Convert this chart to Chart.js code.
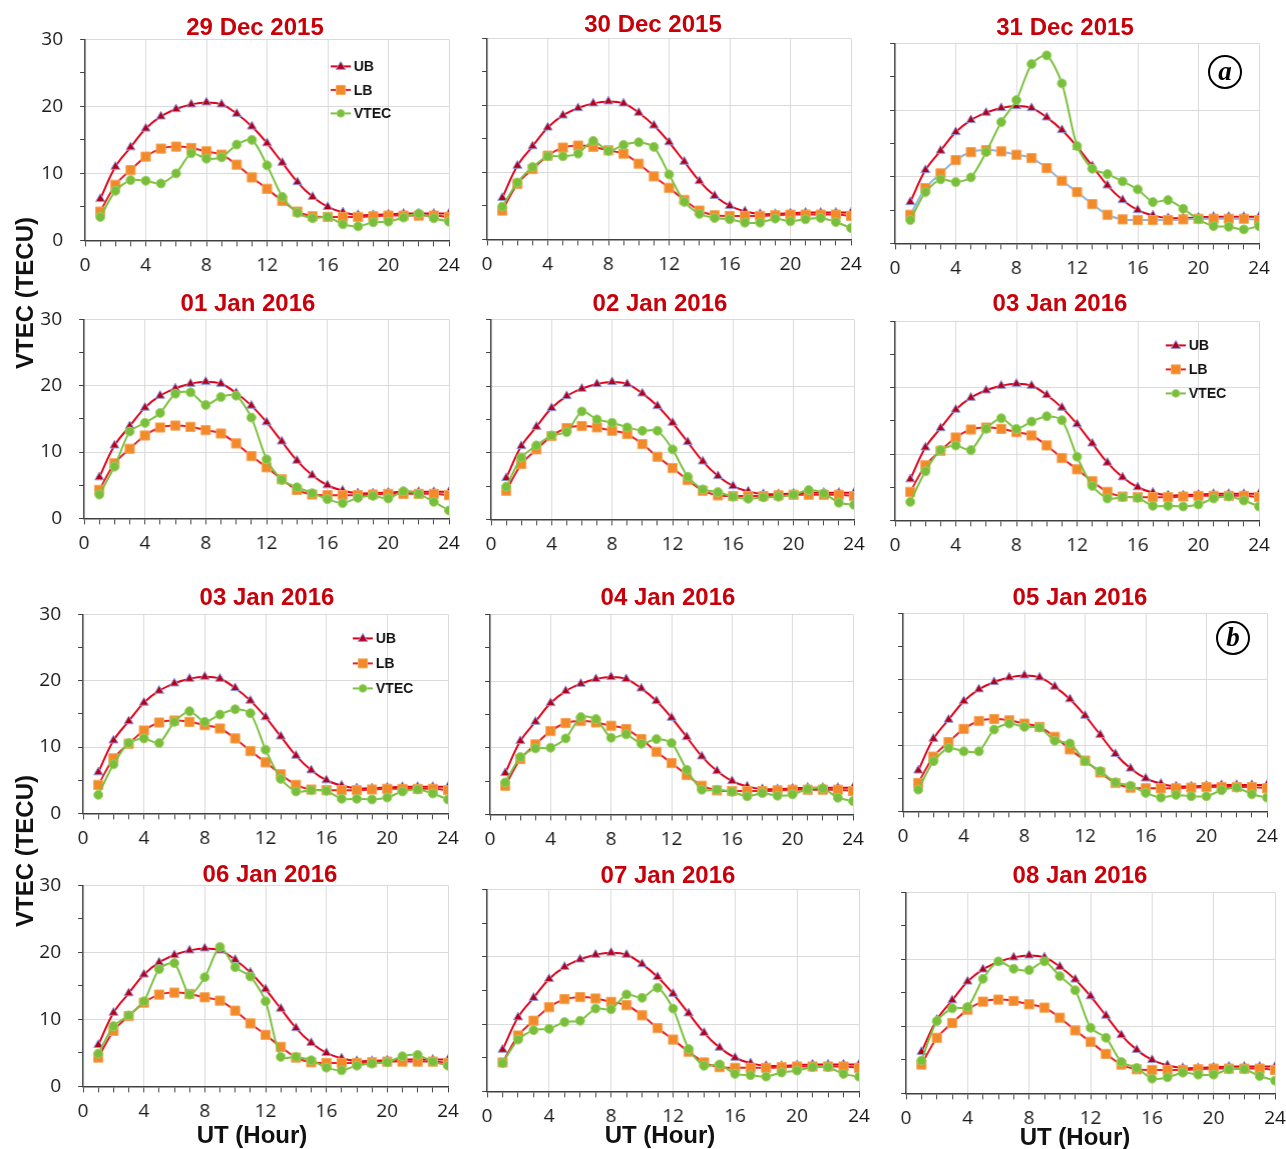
<!DOCTYPE html>
<html><head><meta charset="utf-8">
<script src="https://cdn.jsdelivr.net/npm/chart.js@4.4.1/dist/chart.umd.min.js"></script>
<style>
body{margin:0;background:#fff;width:1286px;height:1149px;position:relative;overflow:hidden;font-family:"Liberation Sans",Arial,sans-serif}
canvas{position:absolute}
.title{position:absolute;color:#c8000a;font-weight:bold;font-size:24px;white-space:nowrap;transform:translate(-50%,-50%)}
.ytitle{position:absolute;font-weight:bold;font-size:24px;white-space:nowrap;color:#111;transform:translate(-50%,-50%) rotate(-90deg)}
.xtitle{position:absolute;font-weight:bold;font-size:24px;white-space:nowrap;color:#111;transform:translate(-50%,-50%)}
.tag{position:absolute;width:30px;height:30px;border:2px solid #000;border-radius:50%;font-family:"Liberation Serif","DejaVu Serif",serif;font-style:italic;font-weight:bold;font-size:27px;text-align:center;line-height:28px;transform:translate(-50%,-50%);background:#fff}
</style>
</head><body>
<script>
// ---------------- data ----------------
const hours = [1,2,3,4,5,6,7,8,9,10,11,12,13,14,15,16,17,18,19,20,21,22,23,24];
const xTicks = [0,4,8,12,16,20,24];
const yTicks = [0,10,20,30];
const ub = [6.2,11.0,13.9,16.7,18.5,19.6,20.3,20.6,20.3,18.9,17.0,14.5,11.6,8.7,6.5,5.0,4.2,3.8,3.8,3.9,4.0,4.0,4.0,4.0];
const lb = [4.3,8.3,10.5,12.5,13.7,14.0,13.8,13.3,12.8,11.3,9.4,7.7,5.9,4.3,3.6,3.5,3.5,3.5,3.6,3.7,3.7,3.7,3.7,3.5];
const dec29 = [3.5,7.4,9.0,8.9,8.5,10.0,13.0,12.2,12.4,14.3,15.0,11.2,6.5,4.1,3.3,3.5,2.4,2.1,2.7,2.8,3.4,4.0,3.3,2.8];
const dec30 = [4.9,8.5,10.8,12.4,12.4,12.8,14.7,13.2,14.1,14.5,13.8,9.7,5.6,3.8,3.2,3.0,2.5,2.5,3.1,2.7,3.0,3.2,2.6,1.7];
const dec31 = [3.5,7.7,9.6,9.2,9.9,13.7,18.2,21.5,26.9,28.2,24.0,14.6,11.2,10.4,9.3,8.1,6.2,6.5,5.2,3.6,2.6,2.5,2.1,2.6];
const jan01 = [3.6,7.8,13.1,14.4,15.9,18.8,19.0,17.1,18.3,18.5,15.2,8.9,5.8,4.7,3.8,2.9,2.3,3.1,3.4,3.0,4.1,3.7,2.5,1.2];
const jan02 = [4.9,9.3,11.1,12.6,13.1,16.2,15.0,14.5,13.8,13.3,13.3,10.5,6.4,4.5,4.1,3.4,3.1,3.3,3.4,3.7,4.4,3.9,2.5,2.2];
const jan03 = [2.8,7.4,10.6,11.3,10.6,13.8,15.4,13.8,14.9,15.7,15.1,9.6,5.2,3.3,3.5,3.4,2.2,2.2,2.1,2.4,3.3,3.6,3.0,2.1];
const jan04 = [4.8,8.6,9.9,10.0,11.4,14.6,14.3,11.5,12.0,10.6,11.3,10.7,6.7,3.7,3.7,3.4,2.7,3.2,2.8,3.0,3.8,3.9,2.5,2.0];
const jan05 = [3.3,7.6,9.6,9.1,9.1,12.4,13.3,12.8,12.7,10.7,10.3,7.6,6.1,4.4,3.9,2.8,2.1,2.5,2.3,2.3,3.2,3.6,2.6,2.1];
const jan06 = [4.9,9.0,10.6,12.7,17.5,18.4,13.7,16.3,20.8,17.8,16.4,12.7,4.4,4.4,3.9,2.8,2.4,3.1,3.4,3.6,4.5,4.7,3.7,3.1];
const jan07 = [4.2,7.7,9.1,9.3,10.3,10.5,12.3,12.2,14.4,13.9,15.4,12.3,6.3,3.8,4.0,2.6,2.4,2.2,2.8,3.1,3.6,3.6,2.6,2.2];
const jan08 = [4.9,10.8,12.7,12.9,17.1,19.7,18.6,18.4,19.7,17.5,15.4,9.8,8.3,4.7,3.8,2.2,2.4,3.1,2.8,2.8,3.6,3.6,2.6,1.9];
const titles = ['29 Dec 2015','30 Dec 2015','31 Dec 2015','01 Jan 2016','02 Jan 2016','03 Jan 2016','03 Jan 2016','04 Jan 2016','05 Jan 2016','06 Jan 2016','07 Jan 2016','08 Jan 2016'];
const vtecs = [dec29,dec30,dec31,jan01,jan02,jan03,jan03,jan04,jan05,jan06,jan07,jan08];
const seriesNames = ['UB','LB','VTEC'];

// ---------------- layout ----------------
const boxes = [
 [85,39,448,240],[487,38,850,239],[895,43,1258,243],
 [84,319,448,518],[491,319,853,519],[895,321,1258,520],
 [83,614,447,813],[490,614,852,814],[903,613,1266,811],
 [83,885,447,1086],[487,889,858,1091],[906,892,1274,1093]];
const titlePos = [[255,27],[653,24],[1065,27],[248,303],[660,303],[1060,303],[267,597],[668,597],[1080,597],[270,874],[668,875],[1080,875]];
const legends = {0:[330,66,23.5],5:[1165,345,24],6:[352,638,25]};
const blueLB = {2:true};

const C = {ubLine:'#e2001a', ubFill:'#b4001a', ubEdge:'#8d9de0', lbLine:'#e8202a', lbBlue:'#8db4e2', lbFill:'#f28a2a', lbEdge:'#f6a55a', vLine:'#7cc142', vFill:'#79bf3b', vEdge:'#9bd165', grid:'#dadada', axis:'#404040'};
const PAD_L=50, PAD_T=14, PAD_R=16, PAD_B=42;

function marker(ctx, style, x, y, r, fill, edge){
  ctx.fillStyle=fill; ctx.strokeStyle=edge; ctx.lineWidth=1;
  ctx.beginPath();
  if(style==='triangle'){ctx.moveTo(x,y-r);ctx.lineTo(x+r*0.95,y+r*0.6);ctx.lineTo(x-r*0.95,y+r*0.6);ctx.closePath();}
  else if(style==='rect'){ctx.rect(x-r,y-r,2*r,2*r);}
  else {ctx.arc(x,y,r,0,Math.PI*2);}
  ctx.fill(); ctx.stroke();
}
const legendPlugin = {
  id:'panelLegend',
  afterDatasetsDraw(chart, args, opts){
    if(!opts.pos) return;
    const ctx=chart.ctx;
    const ox=parseFloat(chart.canvas.style.left)||0, oy=parseFloat(chart.canvas.style.top)||0;
    const [px,py,gap]=opts.pos;
    const order=[2,1,0];
    order.forEach((di,k)=>{
      const ds=chart.data.datasets[di];
      const x=px-ox, y=py+k*gap-oy;
      ctx.save();
      ctx.strokeStyle=ds.borderColor; ctx.lineWidth=2;
      ctx.beginPath(); ctx.moveTo(x,y); ctx.lineTo(x+20,y); ctx.stroke();
      const r = ds.pointStyle==='rect'?4.5:(ds.pointStyle==='triangle'?5:3.8);
      marker(ctx, ds.pointStyle, x+10, y, r, ds.pointBackgroundColor, ds.pointBorderColor);
      ctx.fillStyle='#111'; ctx.font='bold 14px "Liberation Sans", Arial, sans-serif';
      ctx.textBaseline='middle'; ctx.textAlign='left';
      ctx.fillText(ds.label, x+23, y+1);
      ctx.restore();
    });
  }
};

boxes.forEach((bx,i)=>{
  const [l,t,r,b]=bx;
  const W=r-l+PAD_L+PAD_R, H=b-t+PAD_T+PAD_B;
  const cv=document.createElement('canvas');
  cv.width=W; cv.height=H;
  cv.style.left=(l-PAD_L)+'px'; cv.style.top=(t-PAD_T)+'px'; cv.style.width=W+'px'; cv.style.height=H+'px';
  document.body.appendChild(cv);
  const leftCol = (i%3===0);
  const pts = arr => hours.map((h,k)=>({x:h,y:arr[k]}));
  const chart = new Chart(cv,{
    type:'line',
    data:{datasets:[
      {label:seriesNames[2], data:pts(vtecs[i]), borderColor:C.vLine, borderWidth:2, tension:0.25,
       pointStyle:'circle', pointRadius:4.5, pointBackgroundColor:C.vFill, pointBorderColor:C.vEdge, pointBorderWidth:1},
      {label:seriesNames[1], data:pts(lb), borderColor:blueLB[i]?C.lbBlue:C.lbLine, borderWidth:2, tension:0.3,
       pointStyle:'rect', pointRadius:6.5, pointBackgroundColor:C.lbFill, pointBorderColor:C.lbEdge, pointBorderWidth:1},
      {label:seriesNames[0], data:pts(ub), borderColor:C.ubLine, borderWidth:2, tension:0.4,
       pointStyle:'triangle', pointRadius:5.2, pointBackgroundColor:C.ubFill, pointBorderColor:C.ubEdge, pointBorderWidth:1}
    ]},
    options:{
      responsive:false, animation:false, devicePixelRatio:1, maintainAspectRatio:false,
      layout:{padding:{left:0,top:PAD_T,right:PAD_R,bottom:0}},
      plugins:{legend:{display:false}, tooltip:{enabled:false},
        panelLegend: legends[i]?{pos:legends[i]}:{}},
      scales:{
        x:{type:'linear', min:0, max:24, afterFit:s=>{s.height=PAD_B;},
          ticks:{stepSize:1, autoSkip:false, maxRotation:0, padding:8,
            callback:v=>xTicks.includes(v)?String(v):'',
            font:{family:'"Open Sans", sans-serif', size:19}, color:'#1a1a1a'},
          grid:{color:c=>(c.tick && c.tick.value%4===0 && c.tick.value>0)?C.grid:'rgba(0,0,0,0)',
            tickColor:C.axis, tickLength:6, lineWidth:1},
          border:{color:C.axis, width:1.5}},
        y:{min:0, max:30, afterFit:s=>{s.width=PAD_L;},
          ticks:{stepSize:5, padding:17,
            callback:v=>(leftCol && yTicks.includes(v))?String(v):'',
            font:{family:'"Open Sans", sans-serif', size:19}, color:'#1a1a1a'},
          grid:{color:c=>(c.tick && c.tick.value%10===0 && c.tick.value>0)?C.grid:'rgba(0,0,0,0)',
            tickColor:C.axis, tickLength:5, lineWidth:1},
          border:{color:C.axis, width:1.5}}
      }
    },
    plugins:[legendPlugin]
  });
  // second pass: size the canvas so the plot area matches the target box exactly
  const ca = chart.chartArea;
  const dw = (r-l) - (ca.right-ca.left), dh = (b-t) - (ca.bottom-ca.top);
  chart.resize(W+dw, H+dh);
  const ca2 = chart.chartArea;
  cv.style.left=(l-ca2.left)+'px'; cv.style.top=(t-ca2.top)+'px';
  chart.draw();

  const d=document.createElement('div'); d.className='title'; d.textContent=titles[i];
  d.style.left=titlePos[i][0]+'px'; d.style.top=titlePos[i][1]+'px';
  document.body.appendChild(d);
});

function addDiv(cls, text, x, y){const d=document.createElement('div'); d.className=cls; d.textContent=text; d.style.left=x+'px'; d.style.top=y+'px'; document.body.appendChild(d);}
addDiv('ytitle','VTEC (TECU)',25,293);
addDiv('ytitle','VTEC (TECU)',25,851);
addDiv('xtitle','UT (Hour)',252,1135);
addDiv('xtitle','UT (Hour)',660,1135);
addDiv('xtitle','UT (Hour)',1075,1137);
addDiv('tag','a',1225,72);
addDiv('tag','b',1233,638);
</script>
</body></html>
